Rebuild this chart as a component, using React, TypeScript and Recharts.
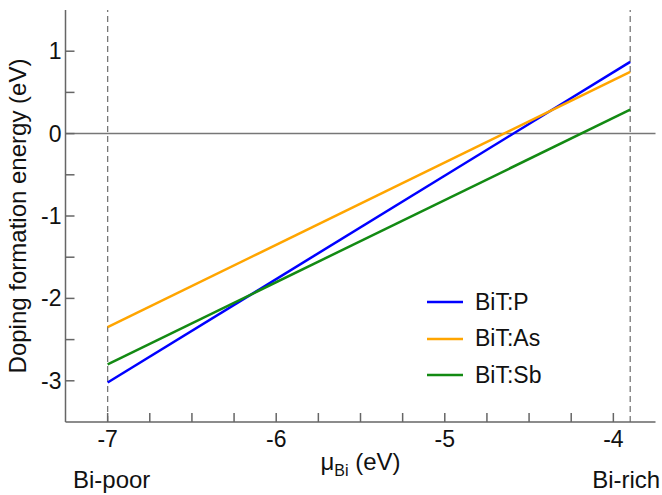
import React from 'react';
import { LineChart, Line, XAxis, YAxis, ReferenceLine, Legend } from 'recharts';

const muBi = [-7, -3.9];
const energyP = [-3.02, 0.87];
const energyAs = [-2.35, 0.75];
const energySb = [-2.8, 0.29];
const seriesNames = ['BiT:P', 'BiT:As', 'BiT:Sb'];
const seriesKeys = ['P', 'As', 'Sb'];
const seriesColors = ['#0000ff', '#ffa500', '#138a13'];
const xTicks = [-7, -6.75, -6.5, -6.25, -6, -5.75, -5.5, -5.25, -5, -4.75, -4.5, -4.25, -4];
const yTicks = [-3, -2.5, -2, -1.5, -1, -0.5, 0, 0.5, 1];
const xDomain = [-7.25, -3.75];
const yDomain = [-3.5, 1.5];
const boundaries = [-7, -3.9];
const boundaryLabels = ['Bi-poor', 'Bi-rich'];

const data = muBi.map((m, i) => ({ mu: m, P: energyP[i], As: energyAs[i], Sb: energySb[i] }));

const FONT = '"Liberation Sans", Arial, Helvetica, sans-serif';
const AXIS = '#666';
const TICK_LEN = 9;

const isMajor = (v: number) => Math.abs(v - Math.round(v)) < 1e-6;

const BottomTick = (props: any) => {
  const { x, y, payload } = props;
  const v = payload.value;
  return (
    <g>
      <line x1={x} x2={x} y1={y} y2={y - TICK_LEN} stroke={AXIS} strokeWidth={1.5} />
      {isMajor(v) && (
        <text x={x} y={y + 25} textAnchor="middle" fontSize={23} fontFamily={FONT} fill="#111">
          {String(v)}
        </text>
      )}
    </g>
  );
};

const TopTick = (props: any) => {
  const { x, y } = props;
  return <line x1={x} x2={x} y1={y} y2={y + TICK_LEN} stroke={AXIS} strokeWidth={1.5} />;
};

const LeftTick = (props: any) => {
  const { x, y, payload } = props;
  const v = payload.value;
  return (
    <g>
      <line x1={x} x2={x + TICK_LEN} y1={y} y2={y} stroke={AXIS} strokeWidth={1.5} />
      {isMajor(v) && (
        <text x={x - 4} y={y + 8} textAnchor="end" fontSize={23} fontFamily={FONT} fill="#111">
          {String(v)}
        </text>
      )}
    </g>
  );
};

const RightTick = (props: any) => {
  const { x, y } = props;
  return <line x1={x} x2={x - TICK_LEN} y1={y} y2={y} stroke={AXIS} strokeWidth={1.5} />;
};

const XLabel = (props: any) => {
  const vb = props.viewBox || {};
  const left = vb.x;
  const width = vb.width;
  const cx = left + width / 2;
  const scale = (v: number) => left + ((v - xDomain[0]) / (xDomain[1] - xDomain[0])) * width;
  return (
    <g fontFamily={FONT} fill="#111">
      <text x={cx} y={470} textAnchor="middle" fontSize={24}>
        μ<tspan fontSize={16} dy={6}>Bi</tspan>
        <tspan dy={-6}> (eV)</tspan>
      </text>
      {boundaries.map((b, i) => (
        <text key={i} x={scale(b) + (i === 1 ? -4 : 4)} y={488} textAnchor="middle" fontSize={24}>
          {boundaryLabels[i]}
        </text>
      ))}
    </g>
  );
};

const YLabel = (props: any) => {
  const vb = props.viewBox || {};
  const cy = vb.y + vb.height / 2;
  return (
    <text
      x={26}
      y={cy}
      transform={`rotate(-90, 26, ${cy})`}
      textAnchor="middle"
      fontSize={24}
      fontFamily={FONT}
      fill="#111"
    >
      Doping formation energy (eV)
    </text>
  );
};

const LegendContent = () => (
  <div style={{ fontFamily: FONT, fontSize: 23, color: '#111' }}>
    {seriesNames.map((n, i) => (
      <div key={n} style={{ display: 'flex', alignItems: 'center', height: 36.5 }}>
        <svg width={48} height={10} style={{ display: 'block' }}>
          <line x1={0} x2={36} y1={5} y2={5} stroke={seriesColors[i]} strokeWidth={2.5} />
        </svg>
        <span>{n}</span>
      </div>
    ))}
  </div>
);

export default function App() {
  return (
    <div style={{ position: 'absolute', left: 0, top: 0, width: 662, height: 495, background: '#fff' }}>
      <LineChart
        width={662}
        height={495}
        data={data}
        margin={{ top: 10, right: 6.5, bottom: 0, left: 5.5 }}
      >
        <XAxis
          dataKey="mu"
          type="number"
          domain={xDomain}
          ticks={xTicks}
          allowDataOverflow
          height={73}
          tickLine={false}
          tickSize={0}
          tickMargin={0}
          interval={0}
          tick={<BottomTick />}
          axisLine={{ stroke: AXIS, strokeWidth: 1.5 }}
          label={<XLabel />}
        />
        <XAxis
          xAxisId="top"
          orientation="top"
          dataKey="mu"
          type="number"
          domain={xDomain}
          ticks={xTicks}
          allowDataOverflow
          height={0}
          tickLine={false}
          tickSize={0}
          tickMargin={0}
          interval={0}
          tick={<TopTick />}
          axisLine={{ stroke: AXIS, strokeWidth: 1.5 }}
        />
        <YAxis
          type="number"
          domain={yDomain}
          ticks={yTicks}
          allowDataOverflow
          width={60}
          tickLine={false}
          tickSize={0}
          tickMargin={0}
          interval={0}
          tick={<LeftTick />}
          axisLine={{ stroke: AXIS, strokeWidth: 1.5 }}
          label={<YLabel />}
        />
        <YAxis
          yAxisId="right"
          orientation="right"
          type="number"
          domain={yDomain}
          ticks={yTicks}
          allowDataOverflow
          width={0}
          tickLine={false}
          tickSize={0}
          tickMargin={0}
          interval={0}
          tick={<RightTick />}
          axisLine={{ stroke: AXIS, strokeWidth: 1.5 }}
        />
        <ReferenceLine y={0} stroke="#777" strokeWidth={1.5} />
        {boundaries.map((b) => (
          <ReferenceLine key={b} x={b} stroke="#777" strokeWidth={1.3} strokeDasharray="6 4" />
        ))}
        {seriesKeys.map((k, i) => (
          <Line
            key={k}
            dataKey={k}
            name={seriesNames[i]}
            stroke={seriesColors[i]}
            strokeWidth={2.5}
            dot={false}
            isAnimationActive={false}
            type="linear"
          />
        ))}
        <Legend
          layout="vertical"
          align="center"
          verticalAlign="middle"
          content={<LegendContent />}
          wrapperStyle={{ position: 'absolute', left: 427, top: 284, width: 160, height: 110 }}
        />
      </LineChart>
    </div>
  );
}
